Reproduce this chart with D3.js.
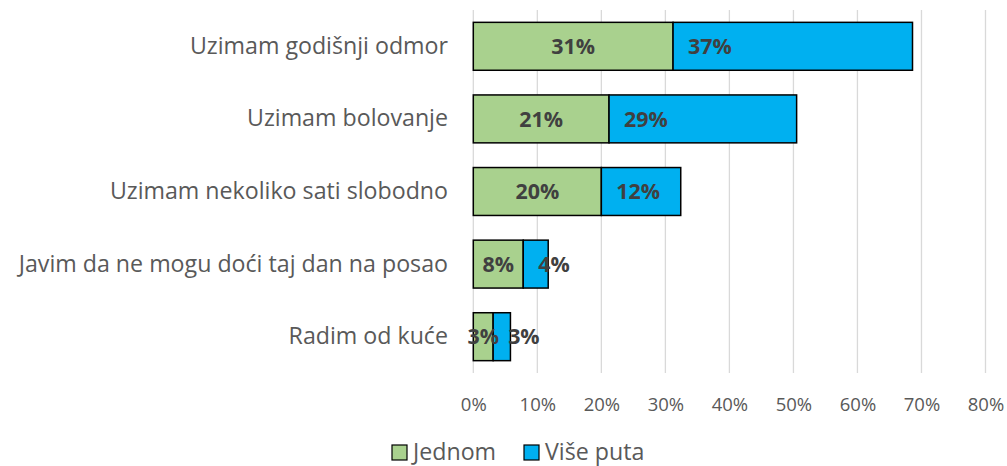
<!DOCTYPE html>
<html><head><meta charset="utf-8">
<script src="https://cdn.jsdelivr.net/npm/d3@7"></script>
<style>body{margin:0;background:#fff}svg{display:block}</style>
</head><body>
<script>
const categories = ["Uzimam godišnji odmor","Uzimam bolovanje","Uzimam nekoliko sati slobodno","Javim da ne mogu doći taj dan na posao","Radim od kuće"];
const jednom = [31.2, 21.2, 20.0, 7.8, 3.1];
const visePuta = [37.4, 29.3, 12.4, 3.9, 2.7];
const seriesNames = ["Jednom","Više puta"];
const seriesColors = ["#A9D18E","#00B0F0"];
const tickValues = [0,10,20,30,40,50,60,70,80];

const W=1007,H=466;
const FONT = "'Open Sans', 'Noto Sans', sans-serif";
const svg = d3.select("body").append("svg").attr("width",W).attr("height",H);
const x = d3.scaleLinear().domain([0,80]).range([473.3,985.5]);
const y = d3.scaleBand().domain(categories).range([10,373]).paddingInner(0.34).paddingOuter(0.17);

// gridlines
svg.append("g").selectAll("line").data(tickValues).join("line")
  .attr("x1",d=>x(d)).attr("x2",d=>x(d)).attr("y1",10).attr("y2",373)
  .attr("stroke","#D9D9D9").attr("stroke-width",1.3);

// x axis labels
const xAxis = d3.axisBottom(x).tickValues(tickValues).tickFormat(d=>d+"%").tickSize(0).tickPadding(0);
const gx = svg.append("g").attr("transform","translate(0,397)").call(xAxis);
gx.select(".domain").remove();
gx.selectAll("text").attr("font-family",FONT).attr("font-size",18.5).attr("fill","#595959").attr("dy","0.74em");

// y axis labels
const yAxis = d3.axisLeft(y).tickSize(0).tickPadding(0);
const gy = svg.append("g").attr("transform","translate(448,0)").call(yAxis);
gy.select(".domain").remove();
gy.selectAll("text").attr("font-family",FONT).attr("font-size",23.2).attr("fill","#595959");

const data = categories.map((c,i)=>({c, a:jednom[i], b:visePuta[i]}));
const stack = d3.stack().keys(["a","b"])(data);

stack.forEach((layer,li)=>{
  svg.append("g").selectAll("rect").data(layer).join("rect")
    .attr("x",d=>x(d[0])).attr("width",d=>x(d[1])-x(d[0]))
    .attr("y",d=>y(d.data.c)).attr("height",y.bandwidth())
    .attr("fill",seriesColors[li]).attr("stroke","#000").attr("stroke-width",1.5);
});
// labels
stack.forEach((layer,li)=>{
  svg.append("g").selectAll("text").data(layer).join("text")
    .attr("x",d=> li===0 ? (x(d[0])+x(d[1]))/2 : x(d[0])+15)
    .attr("text-anchor", li===0 ? "middle":"start")
    .attr("y",d=>y(d.data.c)+y.bandwidth()/2).attr("dy","0.36em")
    .attr("font-family",FONT).attr("font-weight","bold").attr("font-size",21.4)
    .attr("fill","#404040")
    .text(d=>Math.round(d[1]-d[0])+"%");
});

// legend
const legX=[392,524];
const lg = svg.append("g");
seriesNames.forEach((n,i)=>{
  lg.append("rect").attr("x",legX[i]).attr("y",445).attr("width",15).attr("height",15)
    .attr("fill",seriesColors[i]).attr("stroke","#000").attr("stroke-width",1.2);
  lg.append("text").attr("x",legX[i]+21).attr("y",460).attr("font-family",FONT)
    .attr("font-size",23.2).attr("fill","#595959").text(n);
});
</script>
</body></html>
